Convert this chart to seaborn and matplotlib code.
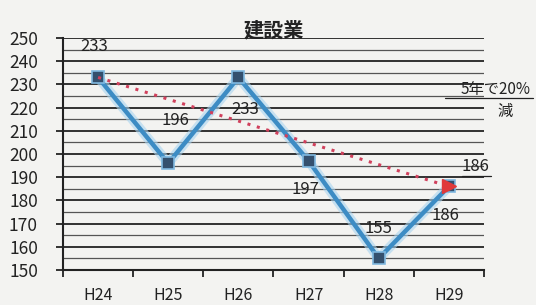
import numpy as np
import pandas as pd
import matplotlib
matplotlib.use("Agg")
import matplotlib.pyplot as plt
import seaborn as sns
from matplotlib.ticker import MultipleLocator, FixedLocator

# データ
years = ["H24", "H25", "H26", "H27", "H28", "H29"]
values = [233, 196, 233, 197, 155, 186]
trend_years = ["H24", "H29"]
trend_values = [233, 186]

sns.set_theme(style="white")
plt.rcParams['font.family'] = ['Noto Sans CJK JP', 'DejaVu Sans']

bg = "#f3f3f1"
fig = plt.figure(figsize=(5.36, 3.05), dpi=100, facecolor=bg)
ax = fig.add_axes([0.1175, 0.1148, 0.7855, 0.7607])
ax.set_facecolor(bg)

df = pd.DataFrame({"x": range(len(years)), "y": values})
pos = {y: i for i, y in enumerate(years)}
tr = pd.DataFrame({"x": [pos[t] for t in trend_years], "y": trend_values})

# 目盛線
ax.yaxis.set_major_locator(MultipleLocator(10))
ax.yaxis.set_minor_locator(MultipleLocator(5))
ax.grid(axis="y", which="major", color="#222222", lw=1.3)
ax.grid(axis="y", which="minor", color="#555555", lw=0.9)
ax.set_axisbelow(True)

# 青い折れ線（ぼかし付き）
sns.lineplot(data=df, x="x", y="y", ax=ax, color="#a8d4f0", lw=7, alpha=0.6)
sns.lineplot(data=df, x="x", y="y", ax=ax, color="#3d8cc4", lw=3.2,
             marker="s", markersize=9, markerfacecolor="#34506e",
             markeredgecolor="#7fb8e0", markeredgewidth=1.2)

# 減少傾向の点線
sns.lineplot(data=tr, x="x", y="y", ax=ax, color="#d0405c", lw=2.2,
             linestyle=(0, (1, 2.2)))
ax.plot(tr["x"].iloc[-1], tr["y"].iloc[-1], marker=">", markersize=10,
        color="#e03a3a", zorder=5)

ax.set_xlim(-0.5, len(years) - 0.5)
ax.set_ylim(150, 250)
ax.set_xticks(range(len(years)))
ax.set_xticklabels(years)
ax.xaxis.set_minor_locator(FixedLocator(np.arange(-0.5, len(years), 1.0)))
ax.tick_params(axis="x", which="major", length=0, pad=12, labelsize=11.5,
               colors="#222222")
ax.tick_params(axis="x", which="minor", length=5, width=1.3, color="#222222",
               direction="out", bottom=True)
ax.tick_params(axis="y", which="major", length=5, width=1.3, color="#222222",
               direction="out", left=True, pad=13, labelsize=12.5,
               labelcolor="#222222")
ax.tick_params(axis="y", which="minor", length=0)
ax.set_xlabel("")
ax.set_ylabel("")

for s in ["top", "right"]:
    ax.spines[s].set_visible(False)
for s in ["left", "bottom"]:
    ax.spines[s].set_color("#222222")
    ax.spines[s].set_linewidth(1.5)

ax.set_title("建設業", fontsize=14.5, fontweight="bold", color="#222222", pad=1)

# データラベル
lab = dict(fontsize=12, color="#222222", ha="center", va="center")
ax.text(-0.05, 246.5, "233", **lab)
ax.text(1.1, 214.5, "196", **lab)
ax.text(2.1, 219, "233", **lab)
ax.text(2.95, 184.5, "197", **lab)
ax.text(4.0, 168, "155", **lab)
ax.text(4.95, 173.5, "186", **lab)
ax.text(5.38, 194.5, "186", **lab)
ax.plot([5.18, 5.6], [190.5, 190.5], color="#222222", lw=0.9, clip_on=False)

ax.text(6.17, 228, "5年で20%", fontsize=11, color="#222222", ha="right",
        va="center", clip_on=False)
ax.plot([4.95, 6.2], [224, 224], color="#222222", lw=0.9, clip_on=False)
ax.text(5.8, 218.5, "減", fontsize=11, color="#222222", ha="center",
        va="center", clip_on=False)

fig.savefig("out.png", dpi=100, facecolor=bg)
